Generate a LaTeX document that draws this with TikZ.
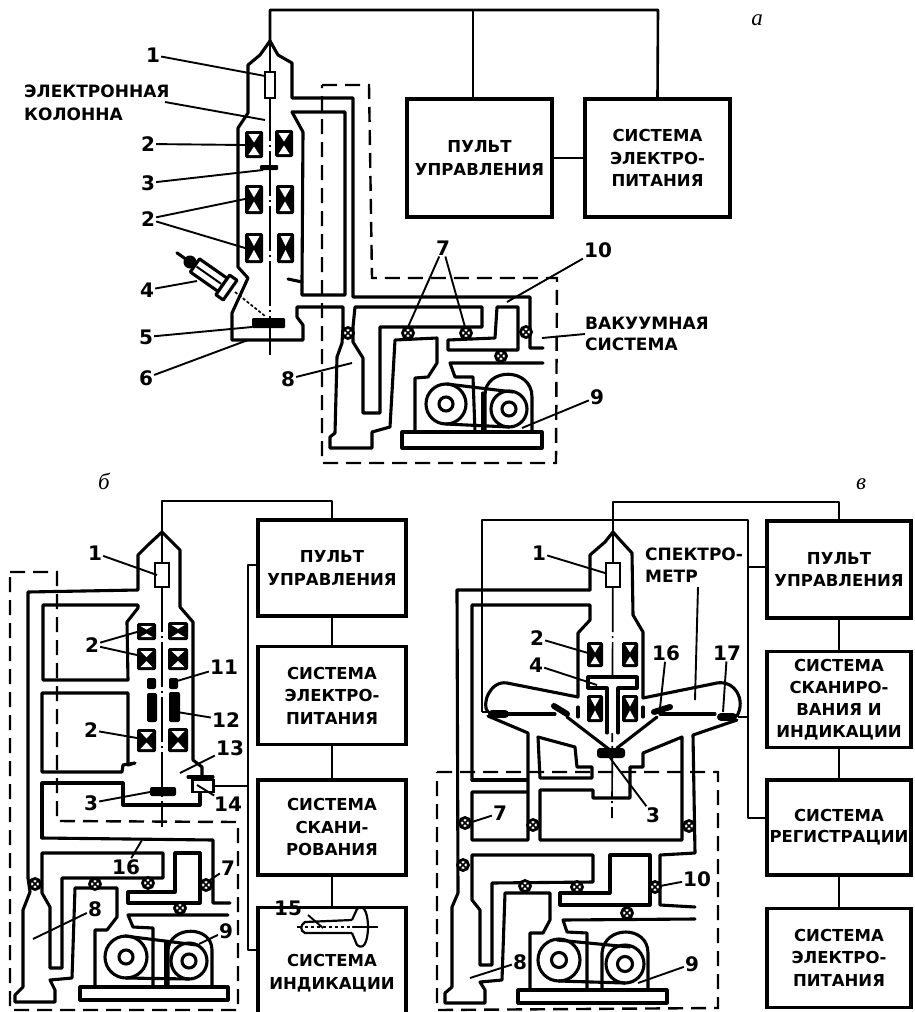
\documentclass[tikz,border=0pt]{standalone}
\usepackage{fontspec}
\setmainfont{DejaVu Sans}
\newfontfamily\panelfont{Liberation Serif}
\usetikzlibrary{positioning}
\tikzset{
    pipe/.style={line width=3.1pt, line join=round, line cap=round},
    wire/.style={line width=2.6pt, line join=round},
    leader/.style={line width=1.9pt},
    vacbound/.style={line width=2.4pt, dash pattern=on 15pt off 8pt},
    beamaxis/.style={line width=1.7pt, dash pattern=on 45pt off 4pt on 2pt off 4pt},
    blockbox/.style={draw, line width=3.4pt, minimum width=146pt, align=center, inner sep=0pt,
        font=\fontsize{16.5}{23.5}\selectfont\bfseries},
    blocktext/.style={align=left, inner sep=0pt, font=\fontsize{17}{23.5}\selectfont\bfseries},
    numlabel/.style={inner sep=1pt, font=\fontsize{20}{20}\selectfont\bfseries},
    panellabel/.style={inner sep=0pt, font=\panelfont\itshape\fontsize{23}{23}\selectfont}
}
\newcommand{\coilcell}[4]{
    \fill[rounded corners=1.5pt] (#1,#2) rectangle (#3,#4);
    \fill[white] ({#1+3.5},{#2+3}) -- ({#3-3.5},{#2+3}) -- ({(#1+#3)/2},{(#2+#4)/2-2}) -- cycle;
    \fill[white] ({#1+3.5},{#4-3}) -- ({#3-3.5},{#4-3}) -- ({(#1+#3)/2},{(#2+#4)/2+2}) -- cycle;
}
\newcommand{\valvemark}[2]{
    \draw[line width=2.8pt, fill=white] (#1,#2) circle (5.5pt);
    \draw[line width=1.7pt] ({#1-3.5},{#2-3.5}) -- ({#1+3.5},{#2+3.5}) ({#1-3.5},{#2+3.5}) -- ({#1+3.5},{#2-3.5});
}
\begin{document}
\begin{tikzpicture}[x=1pt, y=-1pt]
    \useasboundingbox (0,0) rectangle (915,1012);

    % panel a
    \node[panellabel] (labelA) at (757,20) {а};
    \draw[vacbound] (322,85) -- (369,85) -- (372,278) -- (557,278) -- (556,463) -- (322,463) -- cycle;
    \coordinate (tipA) at (270,41);
    \coordinate (busA) at (270,10);
    \coordinate (busAa) at (473,10);
    \coordinate (busAb) at (658,10);
    \node[blockbox, minimum width=145pt, minimum height=118pt] (pultA) at (479.5,158) {ПУЛЬТ\\[-1pt]УПРАВЛЕНИЯ};
    \node[blockbox, minimum width=145pt, minimum height=118pt] (powerA) at (657.5,158) {СИСТЕМА\\[-1pt]ЭЛЕКТРО-\\[-1pt]ПИТАНИЯ};
    \draw[wire] (tipA) -- (busA) -- (busAb) -- (powerA.north);
    \draw[wire] (busAa) -- (pultA.north -| busAa);
    \draw[wire] (pultA) -- (powerA);
    \draw[beamaxis] (tipA) -- (270,355);
    \draw[pipe] (343,327) -- (343,307) -- (297,307) -- (297,317) -- (303,325) -- (303,340) -- (232,340) -- (232,313) -- (248,278) -- (238,267) -- (238,128) -- (248,113) -- (248,65) -- (260,55) -- (tipA) -- (278,55) -- (292,63) -- (292,98) -- (353,98) -- (353,297) -- (530,297) -- (530,348) -- (543,348);
    \draw[pipe] (292,112) -- (345,112) -- (345,295) -- (302,295) -- (302,282) -- (288,279);
    \draw[pipe] (292,112) -- (303,132) -- (302,282);
    \draw[pipe] (343,327) -- (342,343) -- (337,357) -- (335,433) -- (330,437) -- (330,448) -- (372,448) -- (372,432) -- (390,427) -- (395,340) -- (437,338) -- (437,363) -- (428,377) -- (415,378) -- (415,432);
    \draw[pipe] (353,327) -- (353,342) -- (363,358) -- (363,413) -- (380,413) -- (380,327) -- (482,327) -- (482,307) -- (355,307) -- (353,327);
    \draw[pipe] (497,307) -- (518,307) -- (518,350) -- (448,350) -- (448,340) -- (495,338) -- cycle;
    \draw[pipe] (543,363) -- (450,363) -- (455,377) -- (473,377) -- (475,432);
    \draw[pipe] (483,393) -- (483,432);
    \draw[pipe] (402,432) rectangle (542,448);
    \draw[pipe] (446,404) circle (20pt) (446,404) circle (7pt);
    \draw[pipe] (509,409) circle (18pt) (509,409) circle (7pt);
    \draw[pipe] (447,384) -- (513,392) (446,424) -- (509,427);
    \draw[pipe] (485,431) -- (485,395) .. controls (485,367) and (532,367) .. (532,397) -- (532,432);
    \valvemark{348}{333} \valvemark{408}{333} \valvemark{466}{333} \valvemark{526}{332} \valvemark{501}{356}
    \fill[rounded corners=1pt] (260,165) rectangle (278,170);
    \draw[line width=2pt, fill=white] (265,72) rectangle (275,98);
    \coilcell{245}{131}{263}{158} \coilcell{275}{130}{293}{157}
    \coilcell{245}{185}{263}{214} \coilcell{276}{185}{294}{214}
    \coilcell{245}{233}{263}{263} \coilcell{277}{233}{294}{263}
    \fill[rounded corners=1pt] (252,318) rectangle (285,328);
    \begin{scope}[shift={(190,262)}, rotate=-35]
        \draw[pipe] (-16,0) -- (0,0);
        \fill (0,0) circle (6.5pt);
        \draw[pipe, fill=white] (6,-8) rectangle (40,8);
        \draw[line width=2pt] (8,0) -- (38,0);
        \draw[pipe, fill=white] (40,-12) rectangle (49,12);
    \end{scope}
    \draw[line width=1.7pt, densely dashed] (235,292) -- (265,316);
    \node[blocktext, anchor=west] (columnA) at (24,103) {ЭЛЕКТРОННАЯ\\[-1pt]КОЛОННА};
    \coordinate (columnAe) at (265,120);
    \draw[leader] (165,102) -- (columnAe);
    \node[blocktext, anchor=west] (vacuumA) at (585,334) {ВАКУУМНАЯ\\[-3pt]СИСТЕМА};
    \coordinate (vacuumAe) at (542,338);
    \draw[leader] (vacuumA.west) -- (vacuumAe);
    \node[numlabel] (a1) at (153,55) {1}; \coordinate (a1e) at (265,76); \draw[leader] (a1) -- (a1e);
    \node[numlabel] (a2) at (148,144) {2}; \coordinate (a2e) at (245,145); \draw[leader] (a2) -- (a2e);
    \node[numlabel] (a3) at (148,183) {3}; \coordinate (a3e) at (263,170); \draw[leader] (a3) -- (a3e);
    \node[numlabel] (a2b) at (148,219) {2}; \coordinate (a2c) at (245,199); \coordinate (a2d) at (245,248);
    \draw[leader] (a2b) -- (a2c); \draw[leader] (a2b) -- (a2d);
    \node[numlabel] (a4) at (147,290) {4}; \coordinate (a4e) at (197,281); \draw[leader] (a4) -- (a4e);
    \node[numlabel] (a5) at (146,337) {5}; \coordinate (a5e) at (252,327); \draw[leader] (a5) -- (a5e);
    \node[numlabel] (a6) at (146,378) {6}; \coordinate (a6e) at (248,340); \draw[leader] (a6) -- (a6e);
    \node[numlabel] (a8) at (288,379) {8}; \coordinate (a8e) at (352,363); \draw[leader] (a8) -- (a8e);
    \node[numlabel] (a7) at (443,248) {7}; \coordinate (a7c) at (408,327); \coordinate (a7d) at (465,327);
    \draw[leader] (a7) -- (a7c); \draw[leader] (a7) -- (a7d);
    \node[numlabel] (a10) at (598,250) {10}; \coordinate (a10e) at (507,302); \draw[leader] (a10) -- (a10e);
    \node[numlabel] (a9) at (597,397) {9}; \coordinate (a9e) at (522,428); \draw[leader] (a9) -- (a9e);

    % panel b
    \node[panellabel] (labelB) at (104,481) {б};
    \draw[vacbound] (10,572) -- (57,572) -- (57,821) -- (238,822) -- (238,1010) -- (10,1010) -- cycle;
    \coordinate (tipB) at (162,532);
    \coordinate (busB) at (162,501);
    \node[blockbox, minimum width=148pt, minimum height=96pt] (pultB) at (332,568) {ПУЛЬТ\\[-1pt]УПРАВЛЕНИЯ};
    \node[blockbox, below=27pt of pultB, minimum width=148pt, minimum height=98pt] (powerB) {СИСТЕМА\\[-1pt]ЭЛЕКТРО-\\[-1pt]ПИТАНИЯ};
    \node[blockbox, below=32pt of powerB, minimum width=148pt, minimum height=95pt] (scanB) {СИСТЕМА\\[-1pt]СКАНИ-\\[-1pt]РОВАНИЯ};
    \node[blockbox, below=29pt of scanB, minimum width=148pt, minimum height=115pt] (showB) {\mbox{}\\[5.5pt]СИСТЕМА\\[-1pt]ИНДИКАЦИИ};
    \draw[wire] (tipB) -- (busB) -| (pultB.north);
    \draw[wire] (pultB) -- (powerB);
    \draw[wire] (powerB) -- (scanB);
    \draw[wire] (scanB) -- (showB);
    \coordinate (railBa) at (248,565);
    \coordinate (railBb) at (248,950);
    \coordinate (railBc) at (248,785);
    \draw[wire] (pultB.west |- railBa) -- (railBa) -- (railBb) -- (showB.west |- railBb);
    \draw[beamaxis] (tipB) -- (162,827);
    \draw[pipe] (28,878) -- (28,592) -- (138,590) -- (138,555) -- (148,545) -- (tipB) -- (170,540) -- (180,550) -- (180,607) -- (193,622) -- (193,760) -- (202,767) -- (202,780);
    \draw[pipe] (188,777) -- (213,777);
    \draw[pipe] (43,605) -- (138,605) -- (138,608) -- (127,622) -- (128,680) -- (43,680) -- cycle;
    \draw[pipe] (135,763) -- (128,765) -- (128,693) -- (42,693) -- (42,772) -- (122,772) -- (123,765) -- (135,763);
    \draw[pipe] (42,838) -- (42,783) -- (123,783) -- (123,805) -- (200,805) -- (200,790);
    \draw[pipe] (42,838) -- (213,840) -- (213,903) -- (230,903);
    \draw[pipe] (175,853) -- (200,853) -- (200,903) -- (128,903) -- (128,892) -- (175,892) -- cycle;
    \draw[pipe] (28,878) -- (30,892) -- (23,910) -- (23,987) -- (15,995) -- (15,1002) -- (55,1002) -- (55,990) -- (50,980) -- (72,978) -- (75,888) -- (117,888) -- (117,917) -- (107,930) -- (95,930) -- (95,987);
    \draw[pipe] (42,853) -- (42,893) -- (50,907) -- (50,968) -- (62,968) -- (62,878) -- (163,878) -- (163,853) -- cycle;
    \draw[pipe] (228,915) -- (128,915) -- (133,927) -- (153,928) -- (153,987);
    \draw[pipe] (166,942) -- (166,987);
    \draw[pipe] (80,987) rectangle (228,1000);
    \draw[pipe] (126,957) circle (21pt) (126,957) circle (7pt);
    \draw[pipe] (189,961) circle (18pt) (189,961) circle (7pt);
    \draw[pipe] (125,936) -- (197,945) (126,978) -- (189,979);
    \draw[pipe] (168,987) -- (168,950) .. controls (170,925) and (212,925) .. (212,950) -- (212,987);
    \valvemark{35}{884} \valvemark{95}{884} \valvemark{148}{883} \valvemark{206}{885} \valvemark{180}{908}
    \draw[line width=2.4pt, fill=white] (155,563) rectangle (169,587);
    \coilcell{137}{623}{156}{640} \coilcell{168}{622}{188}{640}
    \coilcell{137}{648}{156}{670} \coilcell{168}{648}{188}{670}
    \coilcell{137}{729}{156}{752} \coilcell{168}{728}{188}{752}
    \fill[rounded corners=2pt] (147,678) rectangle (156,689);
    \fill[rounded corners=2pt] (169,678) rectangle (178,689);
    \fill[rounded corners=2pt] (147,693) rectangle (157,722);
    \fill[rounded corners=2pt] (169,692) rectangle (180,722);
    \fill[rounded corners=2pt] (150,787) rectangle (176,796);
    \node[draw, line width=2.8pt, fill=white, minimum width=21pt, minimum height=12pt, inner sep=0pt] (sensorB) at (203,786) {};
    \draw[wire] (sensorB) -- (sensorB -| railBc);
    % small tube inside the indicator block
    \draw[line width=2.2pt] (297,927) -- (378,927);
    \draw[line width=2.2pt, fill=white] (352,920) -- (305,922) .. controls (300,925) and (300,931) .. (305,933) -- (352,933);
    \draw[line width=2.2pt] (352,933) -- (357,945) .. controls (366,952) and (368,935) .. (368,927) .. controls (368,919) and (366,902) .. (357,909) -- (352,920);
    \draw[line width=1.5pt, dashed] (305,927) -- (352,927);
    \draw[line width=1.9pt] (308,915) -- (323,928);
    \node[numlabel] (b15) at (288,908) {15};
    \node[numlabel] (b1) at (95,553) {1}; \coordinate (b1e) at (157,575); \draw[leader] (b1) -- (b1e);
    \node[numlabel] (b2) at (92,645) {2}; \coordinate (b2c) at (137,632); \coordinate (b2d) at (137,655);
    \draw[leader] (b2) -- (b2c); \draw[leader] (b2) -- (b2d);
    \node[numlabel] (b2b) at (91,730) {2}; \coordinate (b2e) at (137,738); \draw[leader] (b2b) -- (b2e);
    \node[numlabel] (b11) at (224,667) {11}; \coordinate (b11e) at (177,681); \draw[leader] (b11) -- (b11e);
    \node[numlabel] (b12) at (226,720) {12}; \coordinate (b12e) at (177,712); \draw[leader] (b12) -- (b12e);
    \node[numlabel] (b13) at (230,748) {13}; \coordinate (b13e) at (180,773); \draw[leader] (b13) -- (b13e);
    \node[numlabel] (b14) at (228,804) {14}; \coordinate (b14e) at (197,785); \draw[leader] (b14) -- (b14e);
    \node[numlabel] (b3) at (91,803) {3}; \coordinate (b3e) at (150,792); \draw[leader] (b3) -- (b3e);
    \node[numlabel] (b16) at (126,867) {16}; \coordinate (b16e) at (142,840); \draw[leader] (b16) -- (b16e);
    \node[numlabel] (b7) at (228,868) {7}; \coordinate (b7e) at (210,880); \draw[leader] (b7) -- (b7e);
    \node[numlabel] (b8) at (95,909) {8}; \coordinate (b8e) at (33,939); \draw[leader] (b8) -- (b8e);
    \node[numlabel] (b9) at (226,931) {9}; \coordinate (b9e) at (199,944); \draw[leader] (b9) -- (b9e);

    % panel c
    \node[panellabel] (labelC) at (861,484) {в};
    \draw[vacbound] (437,772) -- (718,772) -- (718,1008) -- (437,1010) -- cycle;
    \coordinate (tipC) at (613,532);
    \coordinate (busC) at (613,502);
    \node[blockbox, minimum width=144pt, minimum height=97pt] (pultC) at (839,569.5) {ПУЛЬТ\\[-1pt]УПРАВЛЕНИЯ};
    \node[blockbox, below=30pt of pultC, minimum width=144pt, minimum height=96pt, font=\fontsize{16.5}{22}\selectfont\bfseries] (scanC) {СИСТЕМА\\СКАНИРО-\\ВАНИЯ И\\ИНДИКАЦИИ};
    \node[blockbox, below=29pt of scanC, minimum width=144pt, minimum height=95pt] (recC) {СИСТЕМА\\[-3pt]РЕГИСТРАЦИИ};
    \node[blockbox, below=30pt of recC, minimum width=144pt, minimum height=99pt] (powerC) {СИСТЕМА\\[-1pt]ЭЛЕКТРО-\\[-1pt]ПИТАНИЯ};
    \draw[wire] (tipC) -- (busC) -| (pultC.north);
    \draw[wire] (pultC) -- (scanC);
    \draw[wire] (scanC) -- (recC);
    \draw[wire] (recC) -- (powerC);
    \coordinate (railCa) at (482,712);
    \coordinate (railCb) at (482,520);
    \coordinate (railCc) at (748,520);
    \coordinate (railCd) at (748,818);
    \coordinate (railCe) at (748,567);
    \coordinate (railCf) at (748,717);
    \coordinate (railCg) at (738,717);
    \draw[wire] (railCa) -- (railCb) -- (railCc) -- (railCd) -- (recC.west |- railCd);
    \draw[wire] (railCe) -- (pultC.west |- railCe);
    \draw[wire] (railCf) -- (railCg);
    \draw[wire] (railCa) -- (488,712);
    \draw[beamaxis] (tipC) -- (612,818);
    \draw[pipe] (590,590) -- (457,590) -- (458,893) -- (452,907) -- (452,987) -- (445,993) -- (445,1003) -- (485,1003) -- (485,990) -- (480,982) -- (502,980) -- (505,893) -- (550,893) -- (550,920) -- (543,933) -- (530,933) -- (530,990);
    \draw[pipe] (590,590) -- (590,555) -- (605,542) -- (tipC) -- (620,540) -- (632,553) -- (633,615) -- (643,632) -- (643,698) -- (717,683) .. controls (735,680) and (746,700) .. (737,716);
    \draw[pipe] (578,697) -- (507,683) .. controls (490,680) and (481,705) .. (488,712);
    \draw[pipe] (472,780) -- (472,605) -- (590,605) -- (590,620) -- (578,633) -- (578,697);
    \draw[pipe] (578,707) -- (578,717) (643,707) -- (643,717);
    \draw[pipe] (508,714) -- (555,714) (660,714) -- (715,714);
    \draw[pipe] (472,780) -- (527,780);
    \draw[pipe] (488,716) -- (528,733) -- (528,840) -- (472,840) -- (472,792) -- (528,792);
    \draw[pipe] (737,720) -- (693,735) -- (695,853) -- (660,855) -- (660,905) -- (695,907);
    \draw[pipe] (592,767) -- (577,767) -- (575,747) -- (538,737) -- (540,778) -- (592,778) -- (592,767);
    \draw[pipe] (540,790) -- (593,790) -- (593,798) -- (630,798) -- (630,767) -- (643,767) -- (643,753) -- (682,737) -- (682,840) -- (540,840) -- cycle;
    \draw[pipe] (472,900) -- (472,855) -- (593,855) -- (593,882) -- (492,883) -- (492,965) -- (480,965) -- (480,910) -- cycle;
    \draw[pipe] (610,855) -- (650,855) -- (650,905) -- (560,905) -- (560,893) -- (610,893) -- cycle;
    \draw[pipe] (695,919) -- (563,920) -- (567,932) -- (587,933) -- (587,990);
    \draw[pipe] (518,990) rectangle (667,1003);
    \draw[pipe] (559,960) circle (21pt) (559,960) circle (7.5pt);
    \draw[pipe] (625,964) circle (19pt) (625,964) circle (7.5pt);
    \draw[pipe] (557,940) -- (630,947) (559,981) -- (625,983);
    \draw[pipe] (602,990) -- (602,953) .. controls (604,925) and (648,925) .. (648,953) -- (648,990);
    \valvemark{465}{823} \valvemark{463}{865} \valvemark{533}{825} \valvemark{689}{826}
    \valvemark{655}{887} \valvemark{577}{887} \valvemark{525}{886} \valvemark{627}{913}
    \draw[line width=2.4pt, fill=white] (606,563) rectangle (620,587);
    \coilcell{587}{642}{603}{667} \coilcell{622}{642}{638}{667}
    \coilcell{587}{695}{603}{722} \coilcell{622}{695}{638}{722}
    \draw[pipe, fill=white] (607,733) -- (607,688) -- (588,688) -- (588,677) -- (637,677) -- (637,688) -- (618,688) -- (618,733);
    \draw[pipe] (567,717) -- (610,750) (657,717) -- (617,748);
    \draw[line width=8pt, line cap=round] (492,714) -- (505,714);
    \draw[line width=8pt, line cap=round] (721,717) -- (733,717);
    \draw[line width=6pt, line cap=round] (554,706) -- (567,714);
    \draw[line width=6pt, line cap=round] (654,712) -- (670,707);
    \fill[rounded corners=3pt] (597,748) rectangle (625,758);
    \node[blocktext, anchor=west] (spectroC) at (645,565) {СПЕКТРО-\\[-1pt]МЕТР};
    \coordinate (spectroCe) at (695,700);
    \draw[leader] (698,587) -- (spectroCe);
    \node[numlabel] (c1) at (539,553) {1}; \coordinate (c1e) at (605,573); \draw[leader] (c1) -- (c1e);
    \node[numlabel] (c2) at (537,638) {2}; \coordinate (c2e) at (588,653); \draw[leader] (c2) -- (c2e);
    \node[numlabel] (c4) at (536,665) {4}; \coordinate (c4e) at (597,685); \draw[leader] (c4) -- (c4e);
    \node[numlabel] (c16) at (666,653) {16}; \coordinate (c16e) at (660,708); \draw[leader] (c16) -- (c16e);
    \node[numlabel] (c17) at (727,653) {17}; \coordinate (c17e) at (723,712); \draw[leader] (c17) -- (c17e);
    \coordinate (c3s) at (610,758);
    \node[numlabel] (c3) at (653,815) {3}; \draw[leader] (c3) -- (c3s);
    \node[numlabel] (c7) at (500,813) {7}; \coordinate (c7e) at (472,822); \draw[leader] (c7) -- (c7e);
    \node[numlabel] (c8) at (520,962) {8}; \coordinate (c8e) at (470,978); \draw[leader] (c8) -- (c8e);
    \node[numlabel] (c9) at (692,964) {9}; \coordinate (c9e) at (638,983); \draw[leader] (c9) -- (c9e);
    \node[numlabel] (c10) at (697,879) {10}; \coordinate (c10e) at (660,886); \draw[leader] (c10) -- (c10e);
\end{tikzpicture}
\end{document}
